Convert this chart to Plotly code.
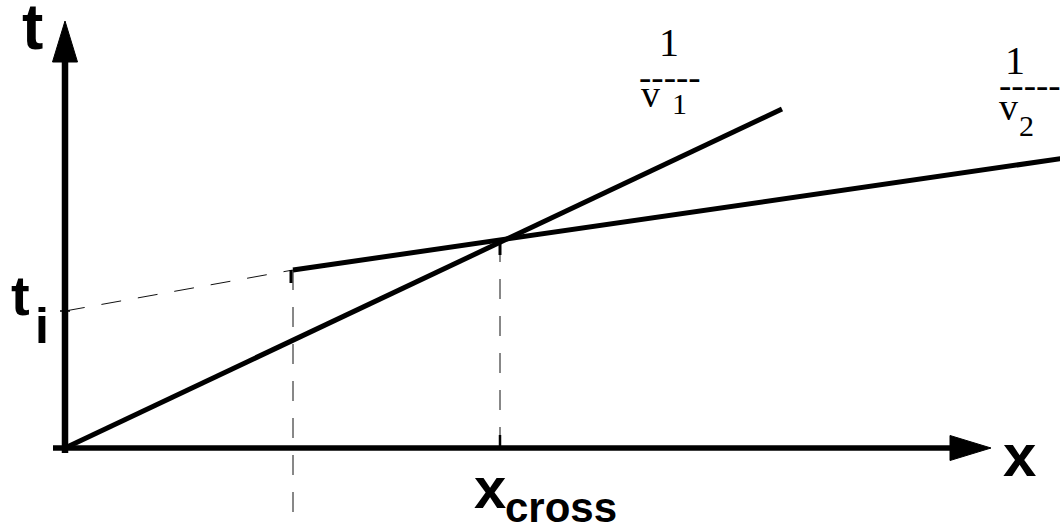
import plotly.graph_objects as go

# Travel-time diagram: direct wave and refracted (head) wave, distance x vs time t.
# Coordinates are in drawing units: x to the right, t upward from the origin.

# direct wave, slope 1/v1
direct_x = [0, 717]
direct_t = [0, 339]

# refracted wave, slope 1/v2, starting at the critical distance
refr_x = [228, 1000]
refr_t = [178, 290]

# intercept-time guide back to the t axis
ti_x = [0, 228]
ti_t = [137, 178]

# crossover point
x_cross = 435
t_cross = 206

# axes extent
x_axis_end = 885
t_axis_end = 386
arrow_len = 41
arrow_half = 12.5

BLACK = "#000000"
SANS = "Liberation Sans"
SERIF = "Liberation Serif"

fig = go.Figure()

def seg(xs, ys, width, color=BLACK, dash=None):
    fig.add_trace(go.Scatter(x=xs, y=ys, mode="lines",
                             line=dict(color=color, width=width, dash=dash),
                             hoverinfo="skip"))

# axis lines
seg([-12, x_axis_end], [0, 0], 5.5)
seg([0, 0], [-5, t_axis_end], 6.5)

# arrowheads
fig.add_trace(go.Scatter(
    x=[x_axis_end, x_axis_end + arrow_len, x_axis_end, x_axis_end],
    y=[arrow_half, 0, -arrow_half, arrow_half],
    mode="lines", fill="toself", fillcolor=BLACK,
    line=dict(color=BLACK, width=1), hoverinfo="skip"))
fig.add_trace(go.Scatter(
    x=[-arrow_half, 0, arrow_half, -arrow_half],
    y=[t_axis_end, t_axis_end + arrow_len, t_axis_end, t_axis_end],
    mode="lines", fill="toself", fillcolor=BLACK,
    line=dict(color=BLACK, width=1), hoverinfo="skip"))

# dashed guides
DASH = "20px,17px"
GUIDE = "#111111"
seg(ti_x, ti_t, 1, GUIDE, DASH)
seg([refr_x[0], refr_x[0]], [refr_t[0], -72], 1, GUIDE, DASH)
seg([x_cross, x_cross], [t_cross, 0], 1, GUIDE, DASH)

# short end ticks on the guides
stub = 13
seg([refr_x[0] - 2, refr_x[0] - 2], [refr_t[0], refr_t[0] - stub], 3)
seg([x_cross, x_cross], [t_cross, t_cross - stub], 3)
seg([x_cross, x_cross], [0, stub], 2.5)
seg([-5, 5], [ti_t[0], ti_t[0]], 1.5)

# travel-time branches
seg(direct_x, direct_t, 5)
seg(refr_x, refr_t, 5)

def label(x, y, text, size, family=SANS, bold=True):
    fig.add_annotation(x=x, y=y, xref="x", yref="y", text=text, showarrow=False,
                       xanchor="center", yanchor="middle",
                       font=dict(family=family, size=size, color=BLACK,
                                 weight="bold" if bold else "normal"))

# axis titles
label(-33, 421, "t", 64)
label(954, -7, "x", 60)

# intercept time
label(-45, 153, "t", 56)
label(-23, 122, "i", 50)

# crossover distance
label(425, -39, "x", 58)
label(496, -59, "cross", 42)

# slope 1/v1
label(604, 406, "1", 40, SERIF, False)
label(605, 371, "-----", 37, SERIF, False)
label(585, 354, "v", 38, SERIF, False)
label(614, 345, "1", 30, SERIF, False)

# slope 1/v2
label(950, 388, "1", 40, SERIF, False)
label(965, 363, "-----", 37, SERIF, False)
label(943, 341, "v", 38, SERIF, False)
label(961, 323, "2", 30, SERIF, False)

fig.update_layout(
    width=1060, height=530,
    margin=dict(l=0, r=0, t=0, b=0),
    paper_bgcolor="white", plot_bgcolor="white",
    showlegend=False,
    xaxis=dict(range=[-65, 995], visible=False, fixedrange=True),
    yaxis=dict(range=[-82, 448], visible=False, fixedrange=True),
)

fig.write_html("out.html")
